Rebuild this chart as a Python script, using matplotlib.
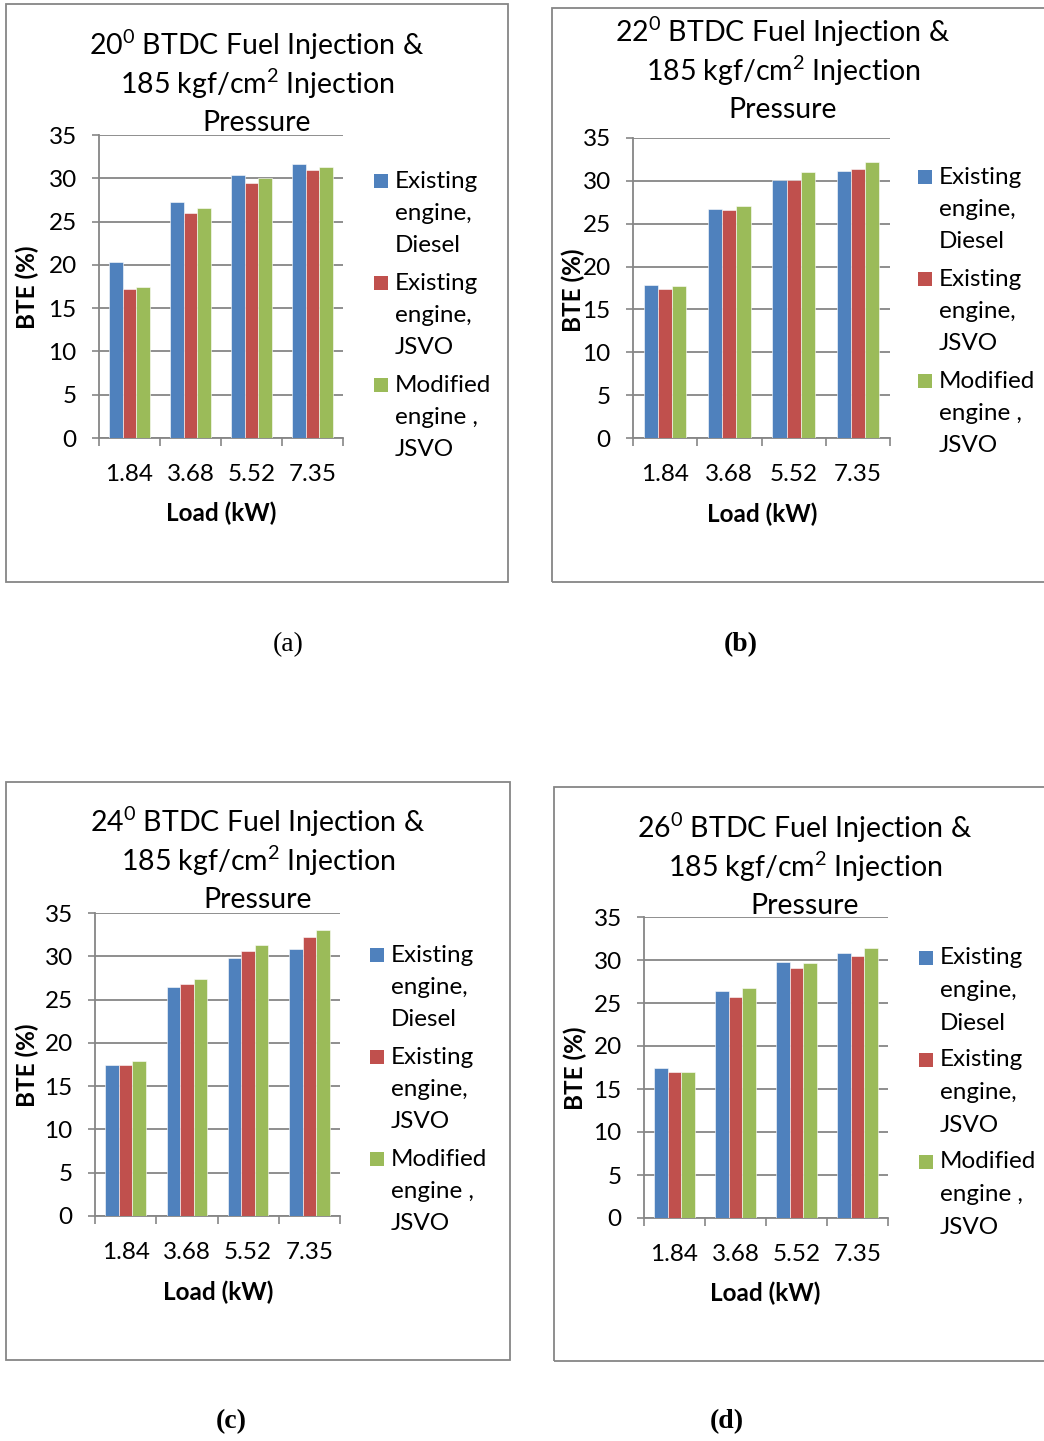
import numpy as np
import matplotlib
matplotlib.use("Agg")
import matplotlib.pyplot as plt
from matplotlib.patches import Rectangle

W, H = 1044, 1441
SANS = ["Lato", "DejaVu Sans"]
SERIF = ["Liberation Serif", "DejaVu Serif"]
GREY = "#868686"
plt.rcParams["mathtext.fontset"] = "custom"
plt.rcParams["mathtext.rm"] = "Lato"
plt.rcParams["mathtext.it"] = "Lato:italic"
plt.rcParams["mathtext.bf"] = "Lato:bold"

# data
loads = ["1.84", "3.68", "5.52", "7.35"]
series_names = [["Existing", "engine,", "Diesel"],
                ["Existing", "engine,", "JSVO"],
                ["Modified", "engine ,", "JSVO"]]
colors = ["#4F81BD", "#C0504D", "#9BBB59"]
angles = ["20", "22", "24", "26"]
captions = ["(a)", "(b)", "(c)", "(d)"]
yticks = [0, 5, 10, 15, 20, 25, 30, 35]

bte_a = [[20.3, 27.3, 30.4, 31.6],
         [17.2, 26.0, 29.4, 31.0],
         [17.5, 26.6, 30.0, 31.3]]
bte_b = [[17.8, 26.7, 30.1, 31.2],
         [17.4, 26.6, 30.1, 31.4],
         [17.7, 27.1, 31.0, 32.2]]
bte_c = [[17.5, 26.4, 29.8, 30.8],
         [17.5, 26.8, 30.6, 32.2],
         [17.9, 27.4, 31.3, 33.0]]
bte_d = [[17.4, 26.4, 29.8, 30.8],
         [17.0, 25.7, 29.1, 30.5],
         [17.0, 26.8, 29.7, 31.4]]
all_bte = [bte_a, bte_b, bte_c, bte_d]

# layout in pixels (left, top, right, bottom)
boxes = [(6, 4, 508, 582), (552, 8, 1046, 582), (6, 782, 510, 1360), (554, 787, 1046, 1361)]
axrects = [(99, 135, 343, 438), (633, 138, 890, 438), (95, 913, 340, 1216), (644, 917, 888, 1218)]
title_xy = [(257, 45), (783, 32), (258, 822), (805, 828)]
legend_xy = [(374, 181), (918, 177), (370, 955), (919, 958)]
xlabel_xy = [(221, 513), (762, 514), (218, 1292), (765, 1293)]
ylabel_xy = [(27, 287), (573, 290), (27, 1065), (575, 1068)]
caption_xy = [(288, 645), (741, 645), (231, 1422), (727, 1422)]


def fx(x):
    return x / W


def fy(y):
    return 1 - y / H


fig = plt.figure(figsize=(W / 100, H / 100), dpi=100)

for i in range(4):
    l, t, r, b = boxes[i]
    fig.patches.append(Rectangle((fx(l), fy(b)), (r - l) / W, (b - t) / H,
                                 transform=fig.transFigure, fill=False,
                                 edgecolor=GREY, linewidth=1.3))

    al, at, ar, ab = axrects[i]
    ax = fig.add_axes([fx(al), fy(ab), (ar - al) / W, (ab - at) / H])
    x = np.arange(len(loads))
    w = 0.22
    for k in range(3):
        ax.bar(x + (k - 1) * w, all_bte[i][k], width=w, color=colors[k],
               edgecolor="white", linewidth=0.4, zorder=3)

    ax.set_xlim(-0.5, 3.5)
    ax.set_ylim(0, 35)
    ax.set_yticks(yticks)
    ax.set_yticklabels([str(v) for v in yticks], fontsize=17.5, family=SANS)
    ax.grid(axis="y", color=GREY, linewidth=1.3, zorder=0)
    ax.set_xticks(np.arange(-0.5, 4, 1))
    ax.set_xticklabels([])
    ax.set_xticks(x, minor=True)
    ax.set_xticklabels(loads, minor=True, fontsize=17.5, family=SANS)
    ax.tick_params(axis="x", which="major", length=6, width=1.2, color=GREY)
    ax.tick_params(axis="x", which="minor", length=0, pad=18.5)
    ax.tick_params(axis="y", length=5, width=1.2, color=GREY, pad=11)
    for s in ["top", "right"]:
        ax.spines[s].set_visible(False)
    for s in ["left", "bottom"]:
        ax.spines[s].set_color(GREY)
        ax.spines[s].set_linewidth(1.3)

    tx, ty = title_xy[i]
    lines = [angles[i] + r"$^{0}$ BTDC Fuel Injection &",
             r"185 kgf/cm$^{2}$ Injection", "Pressure"]
    for j, line in enumerate(lines):
        fig.text(fx(tx), fy(ty + 39 * j), line, ha="center", va="center",
                 fontsize=20.5, family=SANS)

    # legend: square marker aligned with the first line of each entry
    lx, ly = legend_xy[i]
    for k in range(3):
        yy = ly + 102 * k
        fig.patches.append(Rectangle((fx(lx), fy(yy + 7)), 14 / W, 14 / H,
                                     transform=fig.transFigure,
                                     facecolor=colors[k], edgecolor="none"))
        for j, word in enumerate(series_names[k]):
            fig.text(fx(lx + 21), fy(yy + 32.5 * j), word, ha="left", va="center",
                     fontsize=17.5, family=SANS)

    xlx, xly = xlabel_xy[i]
    fig.text(fx(xlx), fy(xly), "Load (kW)", ha="center", va="center",
             fontsize=17.5, fontweight="bold", family=SANS)
    ylx, yly = ylabel_xy[i]
    fig.text(fx(ylx), fy(yly), "BTE (%)", ha="center", va="center",
             rotation=90, fontsize=17.5, fontweight="bold", family=SANS)

    cx, cy = caption_xy[i]
    fig.text(fx(cx), fy(cy), captions[i], ha="center", va="center",
             fontsize=20, family=SERIF,
             fontweight="normal" if i == 0 else "bold")

fig.savefig("out.png", dpi=100, facecolor="white")
